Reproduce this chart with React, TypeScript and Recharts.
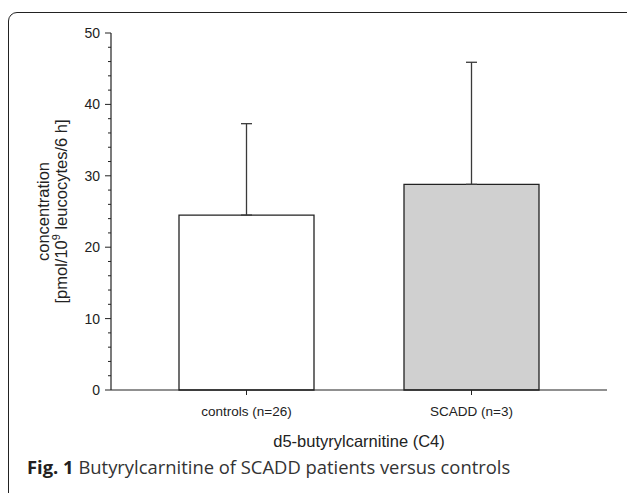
import React from 'react';
import { BarChart, Bar, XAxis, YAxis, ErrorBar, Cell, Label } from 'recharts';

const categories = ['controls (n=26)', 'SCADD (n=3)'];
const means = [24.5, 28.8];
const upperErrors = [12.8, 17.1];
const barFills = ['#ffffff', '#d0d0d0'];
const yTicks = [0, 2, 4, 6, 8, 10, 12, 14, 16, 18, 20, 22, 24, 26, 28, 30, 32, 34, 36, 38, 40, 42, 44, 46, 48, 50];
const yLabelLine1 = 'concentration';
const xTitle = 'd5-butyrylcarnitine (C4)';
const captionBold = 'Fig. 1';
const captionText = ' Butyrylcarnitine of SCADD patients versus controls';

const data = categories.map((name, i) => ({ name, mean: means[i], err: [0, upperErrors[i]] }));

const AXIS_FONT = 'Liberation Sans, Arial, sans-serif';
const INK = '#222';

const YTick = (props: any) => {
  const { x, y, payload } = props;
  const v = payload.value;
  const major = v % 10 === 0;
  return (
    <g>
      <line x1={x - (major ? 6 : 3)} x2={x} y1={y} y2={y} stroke={INK} strokeWidth={1} />
      {major && (
        <text x={x - 11} y={y} dy="0.36em" textAnchor="end" fontSize={14} fontFamily={AXIS_FONT} fill={INK}>
          {v}
        </text>
      )}
    </g>
  );
};

const YTitle = (props: any) => {
  const cx = 52;
  const cy = 211.5;
  return (
    <text
      x={cx}
      y={cy}
      transform={`rotate(-90, ${cx}, ${cy})`}
      textAnchor="middle"
      fontSize={16.5}
      fontFamily={AXIS_FONT}
      fill={INK}
    >
      <tspan x={cx} dy={-3}>{yLabelLine1}</tspan>
      <tspan x={cx} dy={18}>
        [pmol/10
        <tspan fontSize={11} dy={-7}>9</tspan>
        <tspan dy={7}> leucocytes/6 h]</tspan>
      </tspan>
    </text>
  );
};

export default function App() {
  return (
    <div style={{ position: 'absolute', left: 0, top: 0, width: 627, height: 493, overflow: 'hidden', background: '#fff' }}>
      <div
        style={{
          position: 'absolute',
          left: 8,
          top: 11.5,
          width: 640,
          height: 500,
          border: `1.6px solid ${INK}`,
          borderRadius: 9,
          boxSizing: 'border-box',
        }}
      />
      <div style={{ position: 'absolute', left: 0, top: 0 }}>
        <BarChart width={627} height={493} data={data} margin={{ top: 33, right: 20, left: 0, bottom: 33 }}>
          <XAxis
            dataKey="name"
            height={70}
            padding={{ left: 23, right: 23 }}
            axisLine={{ stroke: INK, strokeWidth: 1.2 }}
            tickLine={{ stroke: INK }}
            tickSize={5}
            tickMargin={11}
            tick={{ fontSize: 13.5, fontFamily: AXIS_FONT, fill: INK }}
          >
            <Label value={xTitle} position="insideBottom" offset={13} fontSize={16.5} fontFamily={AXIS_FONT} fill={INK} />
          </XAxis>
          <XAxis xAxisId="top" orientation="top" dataKey="name" height={0} tick={false} tickLine={false} axisLine={{ stroke: INK, strokeWidth: 1.2 }} />
          <YAxis
            width={111}
            domain={[0, 50]}
            ticks={yTicks}
            interval={0}
            tickSize={0}
            tickMargin={0}
            tickLine={false}
            tick={<YTick />}
            axisLine={{ stroke: INK, strokeWidth: 1.2 }}
            label={<YTitle />}
          />
          <YAxis yAxisId="right" orientation="right" width={0} domain={[0, 50]} tick={false} tickLine={false} axisLine={{ stroke: INK, strokeWidth: 1.2 }} />
          <Bar dataKey="mean" barSize={135} stroke={INK} strokeWidth={1.3} isAnimationActive={false}>
            {data.map((d, i) => (
              <Cell key={d.name} fill={barFills[i]} />
            ))}
            <ErrorBar dataKey="err" width={5.5} stroke="#3a3a3a" strokeWidth={1.3} direction="y" isAnimationActive={false} />
          </Bar>
        </BarChart>
      </div>
      <div
        style={{
          position: 'absolute',
          left: 27,
          top: 455,
          fontFamily: '"Open Sans", sans-serif',
          fontSize: 18.4,
          color: '#231f20',
          whiteSpace: 'nowrap',
          lineHeight: '24px',
        }}
      >
        <b>{captionBold}</b>
        <span style={{ color: '#333' }}>{captionText}</span>
      </div>
    </div>
  );
}
